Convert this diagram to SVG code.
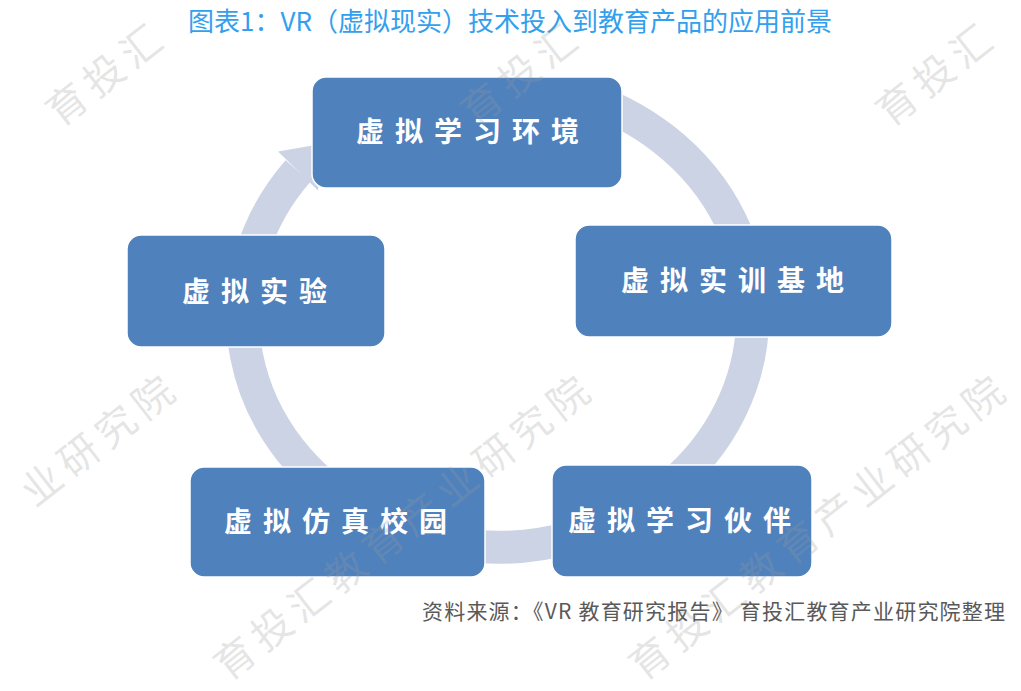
<svg xmlns="http://www.w3.org/2000/svg" width="1021" height="691" viewBox="0 0 1021 691">
<style>
.node rect{fill:#4F81BD;stroke:#ffffff;stroke-width:1.5}
.node text{fill:#ffffff;font-family:"Noto Sans CJK SC","Noto Sans",sans-serif;font-weight:700;font-size:28px;letter-spacing:11px;text-anchor:middle;dominant-baseline:central}
.ring{fill:none;stroke:#CBD3E5;stroke-width:33}
.head{fill:#CBD3E5}
.title{fill:#33A0EE;font-family:"Noto Sans CJK SC","Noto Sans",sans-serif;font-size:26px;text-anchor:middle}
.src{fill:#595959;font-family:"Noto Sans CJK SC","Noto Sans",sans-serif;font-size:21px}
.wm{fill:#9a9a9a;fill-opacity:0.26;font-family:"Noto Sans CJK SC","Noto Sans",sans-serif;font-size:40px;letter-spacing:7px}
</style>
<rect x="0" y="0" width="1021" height="691" fill="#ffffff"/>
<text class="title" x="510" y="31">图表1：VR（虚拟现实）技术投入到教育产品的应用前景</text>
<g id="connectors">
<path class="ring" d="M574.2,94 A255,232 0 1 1 298,171"/>
<polygon class="head" points="318,190.4 278,151.6 324.2,143.6"/>
</g>
<g id="node-env" class="node">
<rect x="312" y="77" width="310" height="111" rx="14"/>
<text x="473" y="130">虚拟学习环境</text>
</g>
<g id="node-base" class="node">
<rect x="575" y="225" width="317" height="112" rx="14"/>
<text x="738" y="279">虚拟实训基地</text>
</g>
<g id="node-exp" class="node">
<rect x="127" y="235" width="258" height="112" rx="14"/>
<text x="260" y="290">虚拟实验</text>
</g>
<g id="node-campus" class="node">
<rect x="190" y="467" width="295" height="110" rx="14"/>
<text x="341" y="520">虚拟仿真校园</text>
</g>
<g id="node-partner" class="node">
<rect x="552" y="465" width="260" height="112" rx="14"/>
<text x="685" y="519">虚拟学习伙伴</text>
</g>
<text class="src" x="422" y="619" textLength="583" lengthAdjust="spacing">资料来源：《VR 教育研究报告》 育投汇教育产业研究院整理</text>
<g id="watermarks">
<text class="wm" transform="translate(60,128) rotate(-38)">育投汇</text>
<text class="wm" transform="translate(475,128) rotate(-38)">育投汇</text>
<text class="wm" transform="translate(890,128) rotate(-38)">育投汇</text>
<text class="wm" transform="translate(35,508) rotate(-38)">业研究院</text>
<text class="wm" transform="translate(228,682) rotate(-38)">育投汇教育产业研究院</text>
<text class="wm" transform="translate(643,682) rotate(-38)">育投汇教育产业研究院</text>
</g>
</svg>
